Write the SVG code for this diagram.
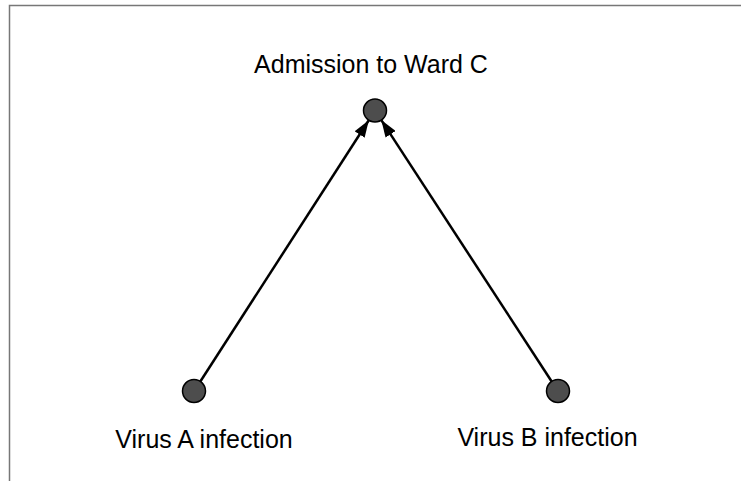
<svg xmlns="http://www.w3.org/2000/svg" width="741" height="481" viewBox="0 0 741 481">
<defs>
<style>
.node circle{fill:#4d4d4d;stroke:#000;stroke-width:1.5}
.lbl{font-family:"Liberation Sans",Arial,sans-serif;font-size:25px;fill:#000;text-anchor:middle}
.edge{stroke:#000;stroke-width:2.5;fill:none;marker-end:url(#ah)}
</style>
<marker id="ah" viewBox="0 0 17 12" refX="17" refY="6" markerWidth="17" markerHeight="12" markerUnits="userSpaceOnUse" orient="auto">
<path d="M0,0 L17,6 L0,12 z" fill="#000"/>
</marker>
</defs>
<rect width="741" height="481" fill="#fff"/>
<path d="M9.5,481 V5.5 H741" fill="none" stroke="#777" stroke-width="1.5"/>
<g id="edges">
<line class="edge" x1="200" y1="382" x2="368.8" y2="120.2"/>
<line class="edge" x1="552" y1="382" x2="381.3" y2="120.1"/>
</g>
<g id="admission" class="node">
<circle cx="375" cy="110.5" r="11.5"/>
<text class="lbl" x="371" y="73">Admission to Ward C</text>
</g>
<g id="virusA" class="node">
<circle cx="194" cy="391" r="11.5"/>
<text class="lbl" x="204" y="448">Virus A infection</text>
</g>
<g id="virusB" class="node">
<circle cx="558" cy="391" r="11.5"/>
<text class="lbl" x="547.5" y="446">Virus B infection</text>
</g>
</svg>
